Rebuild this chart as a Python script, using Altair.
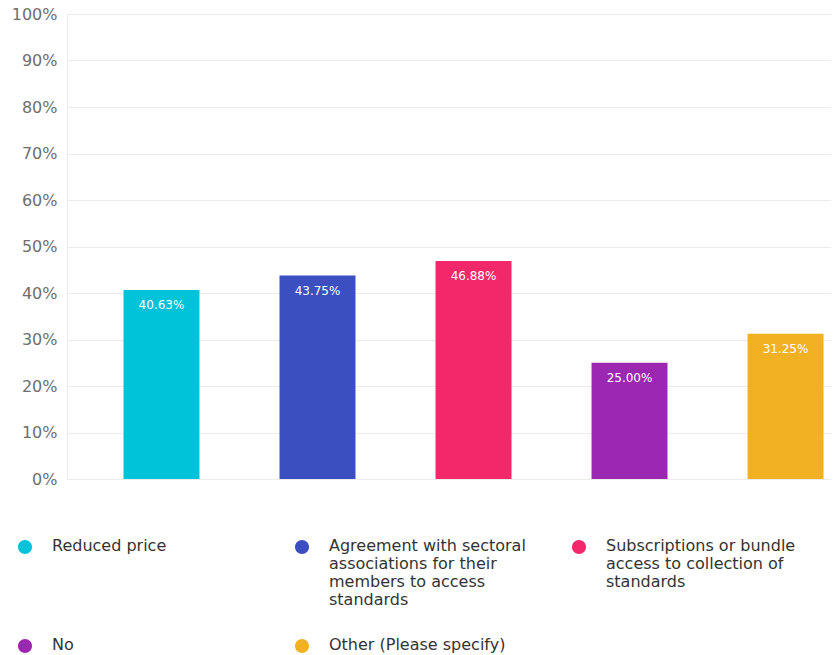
import altair as alt
import pandas as pd

categories = [
    "Reduced price",
    "Agreement with sectoral associations for their members to access standards",
    "Subscriptions or bundle access to collection of standards",
    "No",
    "Other (Please specify)",
]
values = [40.63, 43.75, 46.88, 25.00, 31.25]
colors = ["#00C2D9", "#3B4FC0", "#F2286A", "#9C27B0", "#F2B123"]
wrapped = [
    ["Reduced price"],
    ["Agreement with sectoral", "associations for their", "members to access", "standards"],
    ["Subscriptions or bundle", "access to collection of", "standards"],
    ["No"],
    ["Other (Please specify)"],
]

df = pd.DataFrame({"category": categories, "value": [v / 100 for v in values]})
df["label"] = [f"{v:.2f}%" for v in values]

# legend labels: wrapped lines, padded to equal line count so rows align
n_lines = max(len(w) for w in wrapped)
expr = "datum.label"
for cat, lines in reversed(list(zip(categories, wrapped))):
    padded = lines + [" "] * (n_lines - len(lines))
    arr = "[" + ",".join("'" + l.replace("'", "\\'") + "'" for l in padded) + "]"
    expr = f"datum.label == '{cat}' ? {arr} : ({expr})"

# circle symbol drawn a little lower so it sits on the first label line
shift = 1.29
circle_path = (
    f"M -1 {shift} A 1 1 0 1 0 1 {shift} A 1 1 0 1 0 -1 {shift} Z"
)

xscale = alt.Scale(paddingInner=0.513, paddingOuter=0.2051, align=0.883)

bars = alt.Chart(df).mark_bar().encode(
    x=alt.X("category:N", sort=categories, axis=None, scale=xscale),
    y=alt.Y(
        "value:Q",
        scale=alt.Scale(domain=[0, 1]),
        axis=alt.Axis(
            format="%",
            values=[i / 10 for i in range(11)],
            title=None,
            tickSize=0,
            labelPadding=10,
            labelFontSize=16,
            labelColor="#6E6E6E",
            labelFont="DejaVu Sans",
            domain=True,
            domainColor="#EBEBEB",
            gridColor="#EBEBEB",
        ),
    ),
    color=alt.Color(
        "category:N",
        sort=categories,
        scale=alt.Scale(domain=categories, range=colors),
        legend=alt.Legend(
            title=None,
            orient="none",
            direction="horizontal",
            legendX=-50,
            legendY=516,
            columns=3,
            gridAlign="all",
            columnPadding=45,
            rowPadding=21,
            symbolType=circle_path,
            symbolSize=196,
            symbolStrokeWidth=0,
            symbolOpacity=1,
            labelOffset=19,
            labelFontSize=16,
            labelFont="DejaVu Sans",
            labelColor="#333333",
            labelBaseline="top",
            labelLimit=400,
            labelExpr=expr,
            padding=0,
        ),
    ),
)

text = alt.Chart(df).mark_text(
    baseline="middle", dy=15, color="white", fontSize=12, font="DejaVu Sans"
).encode(
    x=alt.X("category:N", sort=categories, axis=None, scale=xscale),
    y="value:Q",
    text="label:N",
)

chart = (
    (bars + text)
    .properties(
        width=764,
        height=465,
        padding={"left": 59, "top": 6, "right": 0, "bottom": 176},
        autosize=alt.AutoSizeParams(type="none"),
    )
    .configure_view(stroke=None)
    .configure_axis(grid=True)
)

chart.save("out.html", embed_options={"renderer": "svg", "actions": False})
